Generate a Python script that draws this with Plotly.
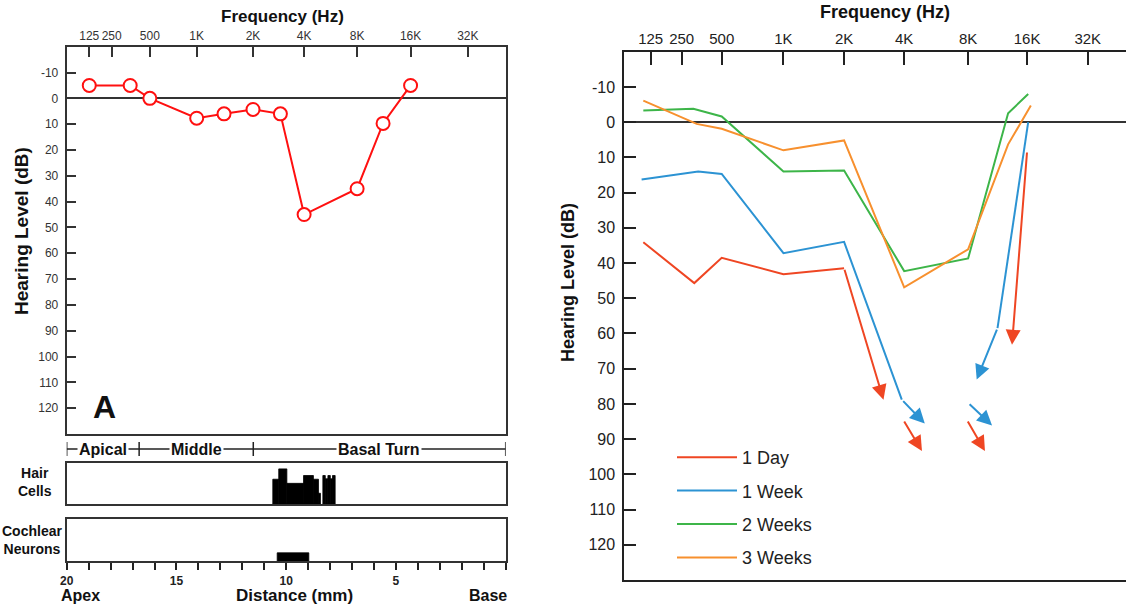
import math
import plotly.graph_objects as go

# ---------------- data ----------------
tick_freqs = [125, 250, 500, 1000, 2000, 4000, 8000, 16000, 32000]
tick_labels = ["125", "250", "500", "1K", "2K", "4K", "8K", "16K", "32K"]
db_ticks = list(range(-10, 130, 10))
db_tick_labels = [str(v) for v in db_ticks]

# Panel A audiogram
a_freq = [125, 350, 500, 1000, 1400, 2000, 2900, 4000, 8000, 11200, 16000]
a_db = [-5, -5, 0, 7.7, 6, 4.3, 6, 45, 35, 9.7, -5]

# Cochlear regions (distance from base, mm)
region_names = ["Apical", "Middle", "Basal Turn"]
region_bounds_mm = [20, 16.7, 11.5, 0]

# Hair cell loss (%), segments along the cochlea (mm)
hc_start = [10.61, 10.34, 9.97, 9.21, 8.76, 8.53, 8.33, 8.22, 8.10, 7.99, 7.89]
hc_end = [10.34, 9.97, 9.21, 8.76, 8.53, 8.44, 8.22, 8.10, 7.99, 7.89, 7.77]
hc_loss = [60, 85, 50, 69, 60, 26, 69, 61, 69, 61, 69]

# Cochlear neuron loss (%)
cn_start = [10.41]
cn_end = [8.97]
cn_loss = [20]

# Panel B: time course
series_names = ["1 Day", "1 Week", "2 Weeks", "3 Weeks"]
day1_freq = [106, 311, 500, 1000, 2000]
day1_db = [34.1, 45.7, 38.5, 43.2, 41.5]
week1_freq = [102, 333, 500, 1000, 2000, 3890, None, 16200, 11300]
week1_db = [16.3, 14.0, 14.7, 37.2, 34.0, 78.8, None, 0, 58.5]
week2_freq = [106, 306, 500, 1000, 2000, 4000, 8000, 12800, 16200]
week2_db = [-3.3, -3.8, -1.6, 14.0, 13.7, 42.3, 38.7, -2.5, -8.0]
week3_freq = [106, 324, 500, 1000, 2000, 4000, 8000, 12800, 16700]
week3_db = [-6.1, 0.5, 1.9, 8.0, 5.2, 46.9, 36.1, 6.3, -4.7]

# Arrows (series, from freq, from dB, to freq, to dB)
arrow_series = ["1 Day", "1 Day", "1 Day", "1 Day", "1 Week", "1 Week", "1 Week"]
arrow_f0 = [2000, 16000, 3960, 7900, 3890, 11300, 8000]
arrow_db0 = [41.5, 8.2, 84.6, 84.6, 78.8, 58.5, 79.7]
arrow_f1 = [3150, 13400, 4850, 9750, 5000, 8850, 10600]
arrow_db1 = [78.8, 63.2, 93.4, 93.4, 85.6, 73.1, 86.1]

# ---------------- styling / scales ----------------
W, H = 1126, 606
FONT = "Liberation Sans, Arial, Helvetica, sans-serif"
colors = {"1 Day": "#EF4623", "1 Week": "#2C93D3", "2 Weeks": "#3DB549", "3 Weeks": "#F7902E"}

# irregular audiogram frequency scales (axis units per octave tick)
pos_a = [0, 0.473, 1.28, 2.27, 3.46, 4.54, 5.66, 6.79, 8.0]
pos_b = [0, 0.567, 1.30, 2.43, 3.54, 4.64, 5.81, 6.89, 8.0]


def freq_to_pos(freqs, p):
    out = []
    for f in freqs:
        if f is None:
            out.append(None)
            continue
        o = math.log2(f / 125.0)
        if o <= 0:
            out.append(p[0] + o * (p[1] - p[0]))
        elif o >= 8:
            out.append(p[8] + (o - 8) * (p[8] - p[7]))
        else:
            i = int(o)
            out.append(p[i] + (o - i) * (p[i + 1] - p[i]))
    return out


def fx(x):
    return x / W


def fy(y):
    return 1 - y / H


fig = go.Figure()

# Panel A line + open circles
fig.add_trace(go.Scatter(
    x=freq_to_pos(a_freq, pos_a), y=a_db, mode="lines+markers",
    line=dict(color="#FF1010", width=2),
    marker=dict(symbol="circle", size=13, color="white", line=dict(color="#FF1010", width=2)),
    xaxis="x", yaxis="y", showlegend=False, hoverinfo="skip"))

# Hair cells bars
fig.add_trace(go.Bar(
    x=[(s + e) / 2 for s, e in zip(hc_start, hc_end)], y=hc_loss,
    width=[abs(s - e) for s, e in zip(hc_start, hc_end)],
    marker=dict(color="black", line=dict(width=0.8, color="black")),
    xaxis="x2", yaxis="y2", showlegend=False, hoverinfo="skip"))

# Cochlear neurons bars
fig.add_trace(go.Bar(
    x=[(s + e) / 2 for s, e in zip(cn_start, cn_end)], y=cn_loss,
    width=[abs(s - e) for s, e in zip(cn_start, cn_end)],
    marker=dict(color="black", line=dict(width=0.8, color="black")),
    xaxis="x3", yaxis="y3", showlegend=False, hoverinfo="skip"))

# Panel B lines
b_freqs = [day1_freq, week1_freq, week2_freq, week3_freq]
b_dbs = [day1_db, week1_db, week2_db, week3_db]
for name, fr, db in zip(series_names, b_freqs, b_dbs):
    fig.add_trace(go.Scatter(
        x=freq_to_pos(fr, pos_b), y=db, mode="lines", name=name,
        line=dict(color=colors[name], width=2), connectgaps=False,
        legendgroup=name, xaxis="x4", yaxis="y4", hoverinfo="skip"))

annotations = []
for s, f0, d0, f1, d1 in zip(arrow_series, arrow_f0, arrow_db0, arrow_f1, arrow_db1):
    annotations.append(dict(
        x=freq_to_pos([f1], pos_b)[0], y=d1, ax=freq_to_pos([f0], pos_b)[0], ay=d0,
        xref="x4", yref="y4", axref="x4", ayref="y4", text="", showarrow=True,
        arrowhead=2, arrowsize=1.5, arrowwidth=2, arrowcolor=colors[s], standoff=0))


def txt(x, y, t, size, bold=True, angle=0, xanchor="center", yanchor="middle", color="#111", **kw):
    d = dict(x=fx(x), y=fy(y), xref="paper", yref="paper", text=t, showarrow=False,
             font=dict(size=size, family=FONT, color=color, weight="bold" if bold else "normal"),
             textangle=angle, xanchor=xanchor, yanchor=yanchor)
    d.update(kw)
    return d


annotations += [
    txt(282, 17, "Frequency (Hz)", 17),
    txt(885, 12, "Frequency (Hz)", 18),
    txt(21, 231, "Hearing Level (dB)", 19, angle=-90),
    txt(568, 283, "Hearing Level (dB)", 18, angle=-90),
    txt(104, 407, "A", 32),
    txt(35, 482, "Hair<br>Cells", 14),
    txt(32, 540, "Cochlear<br>Neurons", 14),
    txt(59, 595, "Apex", 16, xanchor="left"),
    txt(294, 595, "Distance (mm)", 17),
    txt(509, 595, "Base", 16, xanchor="right"),
]

shapes = []
band_y = 449
shapes.append(dict(type="line", xref="x2", yref="paper", x0=region_bounds_mm[0], x1=region_bounds_mm[-1],
                   y0=fy(band_y), y1=fy(band_y), line=dict(color="#222", width=1.5)))
for b in region_bounds_mm:
    shapes.append(dict(type="line", xref="x2", yref="paper", x0=b, x1=b,
                       y0=fy(band_y - 7), y1=fy(band_y + 7), line=dict(color="#222", width=1.5)))
for i, nm in enumerate(region_names):
    mid = (region_bounds_mm[i] + region_bounds_mm[i + 1]) / 2
    annotations.append(dict(x=mid, y=fy(band_y), xref="x2", yref="paper", text=nm, showarrow=False,
                            font=dict(size=16, family=FONT, color="#111", weight="bold"),
                            bgcolor="white", borderpad=1, xanchor="center", yanchor="middle"))

dom_a = [fx(66.7), fx(505.7)]
line_a = dict(showline=True, linecolor="#333", linewidth=2, mirror=True, showgrid=False,
              zeroline=False, automargin=False)

fig.update_layout(
    width=W, height=H, margin=dict(l=0, r=0, t=0, b=0, pad=0, autoexpand=False),
    paper_bgcolor="white", plot_bgcolor="white",
    font=dict(family=FONT, color="#222"),
    showlegend=True,
    legend=dict(x=fx(672), y=fy(439), xanchor="left", yanchor="top",
                font=dict(size=18, family=FONT, color="#222"), bgcolor="rgba(0,0,0,0)",
                tracegroupgap=7, traceorder="grouped", itemwidth=60),
    xaxis=dict(domain=dom_a, anchor="y", side="top", range=[-0.477, 8.80],
               tickmode="array", tickvals=pos_a, ticktext=tick_labels, tickangle=0,
               ticks="inside", ticklen=10, tickwidth=2, tickcolor="#333",
               tickfont=dict(size=12, color="#333"), **line_a),
    yaxis=dict(domain=[fy(434), fy(46.7)], anchor="x", range=[130, -20],
               tickmode="array", tickvals=db_ticks, ticktext=db_tick_labels,
               ticks="inside", ticklen=9, tickwidth=2, tickcolor="#333",
               tickfont=dict(size=12, color="#333"), ticklabelstandoff=4, automargin=False,
               showline=True, linecolor="#333", linewidth=2, mirror=True, showgrid=False,
               zeroline=True, zerolinecolor="#333", zerolinewidth=1.5),
    xaxis2=dict(domain=dom_a, anchor="y2", range=[20, 0], showticklabels=False, ticks="", **line_a),
    yaxis2=dict(domain=[fy(504), fy(462.7)], anchor="x2", range=[0, 100], showticklabels=False, ticks="", **line_a),
    xaxis3=dict(domain=dom_a, anchor="y3", range=[20, 0], tickmode="array",
                tickvals=list(range(20, -1, -1)),
                ticktext=[str(v) if v in (20, 15, 10, 5) else "" for v in range(20, -1, -1)],
                tickangle=0, ticks="outside", ticklen=7, tickwidth=1.5, tickcolor="#222",
                tickfont=dict(size=12, color="#222", weight="bold"), **line_a),
    yaxis3=dict(domain=[fy(561.3), fy(519)], anchor="x3", range=[0, 100], showticklabels=False, ticks="", **line_a),
    xaxis4=dict(domain=[fx(624.3), 1.0], anchor="y4", side="top", range=[-0.483, 8.70],
                tickmode="array", tickvals=pos_b, ticktext=tick_labels, tickangle=0,
                ticks="inside", ticklen=13, tickwidth=2, tickcolor="#222",
                tickfont=dict(size=15, color="#222"), automargin=False,
                showline=True, linecolor="#222", linewidth=2, mirror=True, showgrid=False, zeroline=False),
    yaxis4=dict(domain=[fy(580), fy(51.7)], anchor="x4", range=[130, -20],
                tickmode="array", tickvals=db_ticks, ticktext=db_tick_labels,
                ticks="inside", ticklen=12, tickwidth=2, tickcolor="#222",
                tickfont=dict(size=16, color="#222"), ticklabelstandoff=4, automargin=False,
                showline=True, linecolor="#222", linewidth=2, mirror=False, showgrid=False,
                zeroline=True, zerolinecolor="#333", zerolinewidth=2),
    annotations=annotations, shapes=shapes,
)

fig.write_html("out.html", config={"displayModeBar": False},
               post_script="document.body.style.margin='0';")
